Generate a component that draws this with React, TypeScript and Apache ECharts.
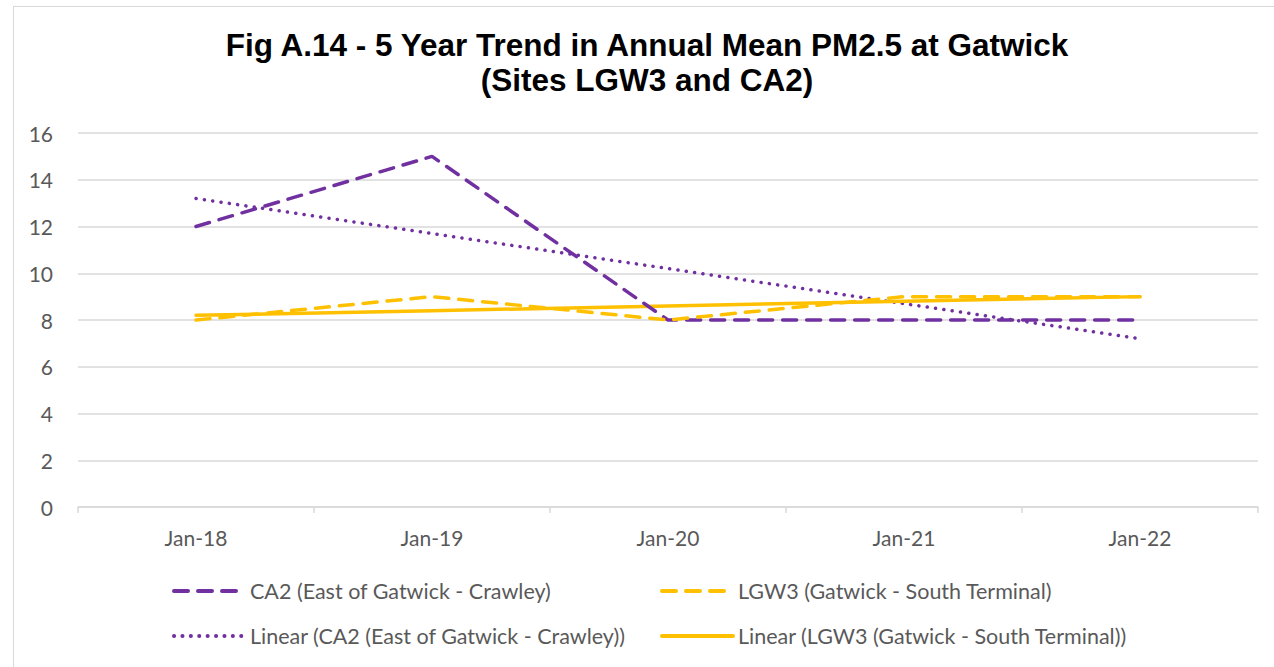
import React, { useEffect, useRef } from "react";
import * as echarts from "echarts";

const categories = ["Jan-18", "Jan-19", "Jan-20", "Jan-21", "Jan-22"];
const ca2 = [12, 15, 8, 8, 8];
const lgw3 = [8, 9, 8, 9, 9];
const linearCa2 = [13.2, 11.7, 10.2, 8.7, 7.2];
const linearLgw3 = [8.2, 8.4, 8.6, 8.8, 9.0];
const titleLines = ["Fig A.14 - 5 Year Trend in Annual Mean PM2.5 at Gatwick", "(Sites LGW3 and CA2)"];

const PURPLE = "#7030a0";
const YELLOW = "#ffc000";
const FONT = "Lato, 'Open Sans', sans-serif";

export default function App() {
  const ref = useRef<HTMLDivElement>(null);
  useEffect(() => {
    if (!ref.current) return;
    const chart = echarts.init(ref.current, undefined, { renderer: "svg" });
    const legendText = { color: "#595959", fontSize: 21.5, lineHeight: 24, fontFamily: FONT };
    const legendBase = {
      orient: "vertical",
      top: 574,
      itemHeight: 14,
      itemWidth: 71,
      itemGap: 21,
      itemStyle: { opacity: 0 },
      lineStyle: { width: 4 },
      textStyle: legendText,
    };
    chart.setOption({
      animation: false,
      backgroundColor: "#ffffff",
      graphic: titleLines.map((line, i) => ({
        type: "text",
        x: 647,
        y: 45 + i * 35,
        style: {
          text: line,
          textAlign: "center",
          textVerticalAlign: "middle",
          fontFamily: "'Liberation Sans', Arial, sans-serif",
          fontWeight: "bold",
          fontSize: 31.5,
          fill: "#000",
        },
      })),
      grid: { left: 78, right: 16, top: 133, bottom: 160 },
      xAxis: {
        type: "category",
        data: categories,
        boundaryGap: true,
        axisLine: { lineStyle: { color: "#d9d9d9", width: 1.5 } },
        axisTick: { show: true, length: 6, lineStyle: { color: "#d9d9d9", width: 1.5 } },
        axisLabel: { color: "#595959", fontSize: 21, fontFamily: FONT, margin: 20 },
      },
      yAxis: {
        type: "value",
        min: 0,
        max: 16,
        interval: 2,
        axisLine: { show: false },
        axisTick: { show: false },
        axisLabel: { color: "#595959", fontSize: 21, fontFamily: FONT, margin: 25 },
        splitLine: { lineStyle: { color: "#d9d9d9", width: 1.5 } },
      },
      legend: [
        {
          ...legendBase,
          left: 167,
          data: ["CA2 (East of Gatwick - Crawley)", "Linear (CA2 (East of Gatwick - Crawley))"],
        },
        {
          ...legendBase,
          left: 655,
          data: ["LGW3 (Gatwick - South Terminal)", "Linear (LGW3 (Gatwick - South Terminal))"],
        },
      ],
      series: [
        {
          name: "CA2 (East of Gatwick - Crawley)",
          type: "line",
          data: ca2,
          symbol: "none",
          z: 3,
          lineStyle: { color: PURPLE, width: 3.5, type: [14, 10], cap: "round" },
          itemStyle: { color: PURPLE },
        },
        {
          name: "LGW3 (Gatwick - South Terminal)",
          type: "line",
          data: lgw3,
          symbol: "none",
          z: 3,
          lineStyle: { color: YELLOW, width: 3.5, type: [14, 10], cap: "round" },
          itemStyle: { color: YELLOW },
        },
        {
          name: "Linear (CA2 (East of Gatwick - Crawley))",
          type: "line",
          data: linearCa2,
          symbol: "none",
          z: 2,
          lineStyle: { color: PURPLE, width: 3.5, type: [0.1, 8.3], cap: "round" },
          itemStyle: { color: PURPLE },
        },
        {
          name: "Linear (LGW3 (Gatwick - South Terminal))",
          type: "line",
          data: linearLgw3,
          symbol: "none",
          z: 2,
          lineStyle: { color: YELLOW, width: 3.5, type: "solid", cap: "round" },
          itemStyle: { color: YELLOW },
        },
      ],
    });
    return () => chart.dispose();
  }, []);
  return (
    <div style={{ position: "fixed", left: 0, top: 0, width: 1274, height: 667, background: "#fff" }}>
      <div
        ref={ref}
        style={{ position: "absolute", left: 0, top: 0, width: 1274, height: 667 }}
      />
      <div
        style={{
          position: "absolute",
          left: 13,
          top: 6,
          width: 1274,
          height: 700,
          border: "1px solid #d9d9d9",
          pointerEvents: "none",
          boxSizing: "border-box",
        }}
      />
    </div>
  );
}
